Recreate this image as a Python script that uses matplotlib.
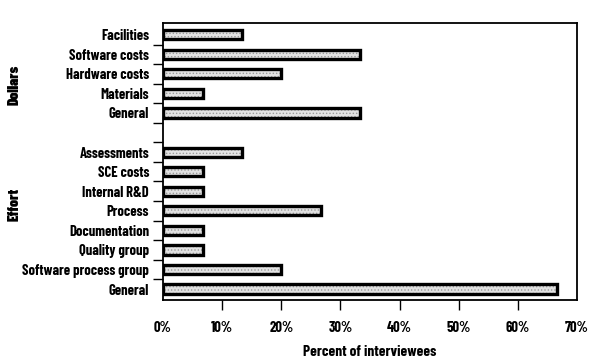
import matplotlib
matplotlib.use("Agg")
import matplotlib.pyplot as plt
import numpy as np

# categories, top to bottom
dollars_labels = ["Facilities", "Software costs", "Hardware costs", "Materials", "General"]
dollars_values = [13.3, 33.3, 20.0, 6.7, 33.3]
effort_labels = ["Assessments", "SCE costs", "Internal R&D", "Process", "Documentation",
                 "Quality group", "Software process group", "General"]
effort_values = [13.3, 6.7, 6.7, 26.7, 6.7, 6.7, 20.0, 66.7]
xtick_values = [0, 10, 20, 30, 40, 50, 60, 70]

plt.rcParams['font.family'] = ['Barlow Condensed', 'DejaVu Sans']
plt.rcParams['font.weight'] = 'bold'
plt.rcParams['hatch.linewidth'] = 0.6

labels = dollars_labels + effort_labels
values = dollars_values + effort_values
# one empty slot between the two groups
pos = list(range(len(dollars_labels))) + \
      list(range(len(dollars_labels) + 1, len(dollars_labels) + 1 + len(effort_labels)))
pos = np.array(pos)

fig = plt.figure(figsize=(6, 3.63), dpi=100)
ax = fig.add_axes([163/600, 1 - 300/363, (577-163)/600, (300-23)/363])

ax.barh(pos, values, height=0.47, color='#e2e2e2', edgecolor='#9a9a9a',
        hatch='.....', linewidth=0, zorder=2)
ax.barh(pos, values, height=0.47, fill=False, edgecolor='black', linewidth=2.4, zorder=3)

ax.set_xlim(0, 70)
ax.set_ylim(13.56, -0.6)

ax.set_xticks(xtick_values)
ax.set_xticklabels([f"{v}%" for v in xtick_values], fontsize=10.5, fontweight='bold')
ax.tick_params(axis='x', direction='out', length=7, width=1, pad=8)
xt = ax.xaxis.get_major_ticks()
xt[0].tick1line.set_visible(False)
xt[-1].tick1line.set_visible(False)

ax.set_yticks(pos)
ax.set_yticklabels(labels, fontsize=10.5, fontweight='bold')
ax.tick_params(axis='y', which='major', length=0, pad=10)
ax.set_yticks(np.arange(0.5, pos.max(), 1.0), minor=True)
ax.tick_params(axis='y', which='minor', direction='out', length=7, width=1)

for s in ax.spines.values():
    s.set_linewidth(1.3)

ax.set_xlabel("Percent of interviewees", fontsize=11, fontweight='bold', labelpad=7)

fig.text(15/600, 1 - 85/363, "Dollars", rotation=90, ha='center', va='center',
         fontsize=11, fontweight=900)
fig.text(15/600, 1 - 204/363, "Effort", rotation=90, ha='center', va='center',
         fontsize=11, fontweight=900)

fig.savefig("out.png", dpi=100)
